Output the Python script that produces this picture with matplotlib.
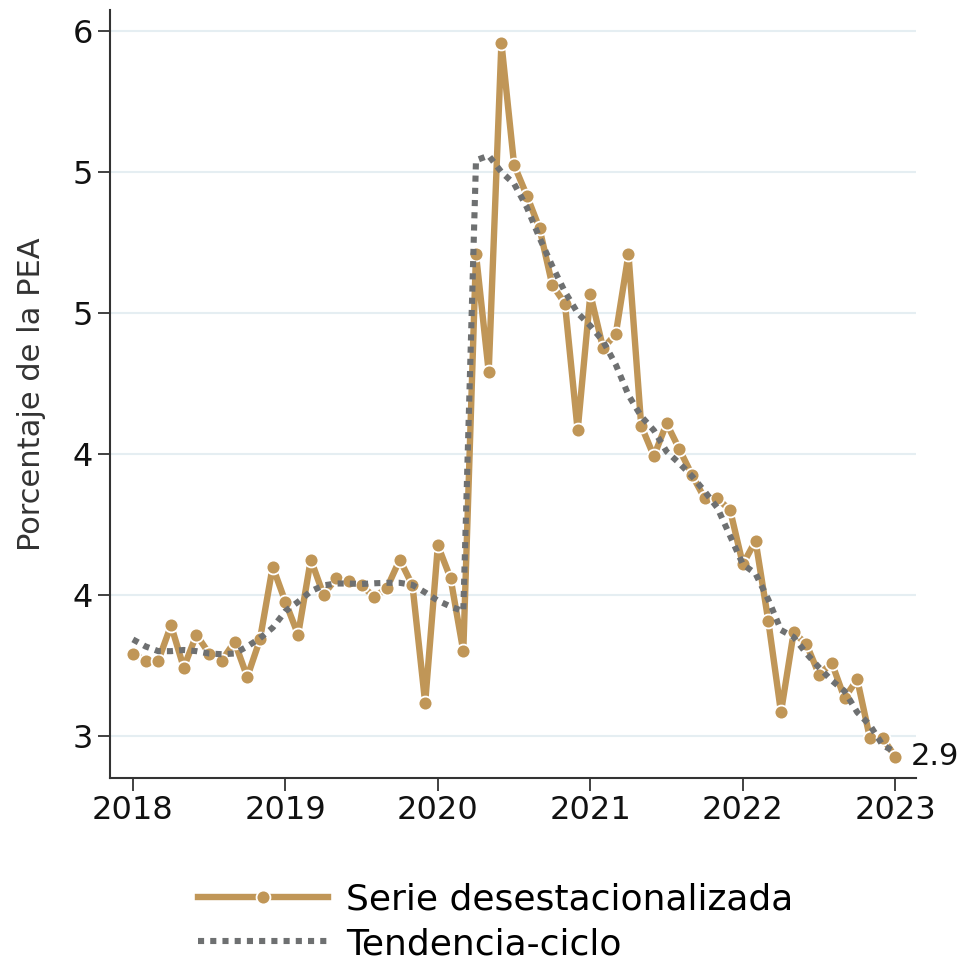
import numpy as np
import matplotlib.pyplot as plt

# monthly data, Jan 2018 - Jan 2023 (index 0..60)
serie = [3.35, 3.32, 3.32, 3.47, 3.29, 3.43, 3.35, 3.32, 3.40, 3.25, 3.41, 3.72,
         3.57, 3.43, 3.75, 3.60, 3.67, 3.66, 3.64, 3.59, 3.63, 3.75, 3.64, 3.14,
         3.81, 3.67, 3.36, 5.05, 4.55, 5.95, 5.43, 5.30, 5.16, 4.92, 4.84, 4.30,
         4.88, 4.65, 4.71, 5.05, 4.32, 4.19, 4.33, 4.22, 4.11, 4.01, 4.01, 3.96,
         3.73, 3.83, 3.49, 3.10, 3.44, 3.39, 3.26, 3.31, 3.16, 3.24, 2.99, 2.99,
         2.91]
tendencia = [3.41, 3.38, 3.36, 3.36, 3.365, 3.36, 3.35, 3.347, 3.35, 3.38, 3.415, 3.46,
             3.53, 3.57, 3.615, 3.64, 3.648, 3.648, 3.646, 3.649, 3.651, 3.651, 3.642, 3.61,
             3.575, 3.55, 3.53, 5.45, 5.47, 5.40, 5.35, 5.25, 5.12, 5.00, 4.89, 4.80,
             4.745, 4.68, 4.58, 4.45, 4.36, 4.30, 4.21, 4.16, 4.105, 4.04, 3.97, 3.85,
             3.73, 3.69, 3.58, 3.45, 3.42, 3.35, 3.29, 3.235, 3.19, 3.10, 3.045, 2.96,
             2.93]
years = ["2018", "2019", "2020", "2021", "2022", "2023"]
yticks = [3.0, 3.6, 4.2, 4.8, 5.4, 6.0]

plt.rcParams['font.family'] = ['DejaVu Sans']
tan = "#c09657"
grey = "#6e7071"

fig = plt.figure(figsize=(9.66, 9.6), dpi=100)
ax = fig.add_axes([0.1139, 0.1896, 0.834, 0.80])

x = np.arange(len(serie))
ax.plot(x, serie, color=tan, lw=4.6, marker="o", ms=10, mfc=tan, mec="white",
        mew=1.3, zorder=3, label="Serie desestacionalizada")
ax.plot(x, tendencia, color=grey, lw=4.4, ls=(0, (1, 1)), zorder=4,
        label="Tendencia-ciclo")

ax.text(x[-1] + 1.2, serie[-1], "2.9", fontsize=22, va="center", ha="left",
        color="#111111")

ax.set_xlim(-1.8, 61.6)
ax.set_ylim(2.82, 6.09)
ax.set_xticks(np.arange(0, 61, 12))
ax.set_xticklabels(years)
ax.set_yticks(yticks)
ax.set_yticklabels(["%.0f" % v for v in yticks])
ax.tick_params(labelsize=23, length=9, width=1.3, color="#333333",
               labelcolor="#111111")
ax.yaxis.grid(True, color="#e5eef2", lw=1.5)
ax.set_axisbelow(True)
for s in ["top", "right"]:
    ax.spines[s].set_visible(False)
for s in ["left", "bottom"]:
    ax.spines[s].set_linewidth(1.5)
    ax.spines[s].set_color("#333333")
ax.set_ylabel("Porcentaje de la PEA", fontsize=22, color="#333333", labelpad=19)

fig.legend(loc="upper left", bbox_to_anchor=(0.19, 0.096), frameon=False,
           fontsize=26, handlelength=3.6, labelspacing=0.3, handletextpad=0.5,
           borderaxespad=0)

fig.savefig("out.png", dpi=100)
